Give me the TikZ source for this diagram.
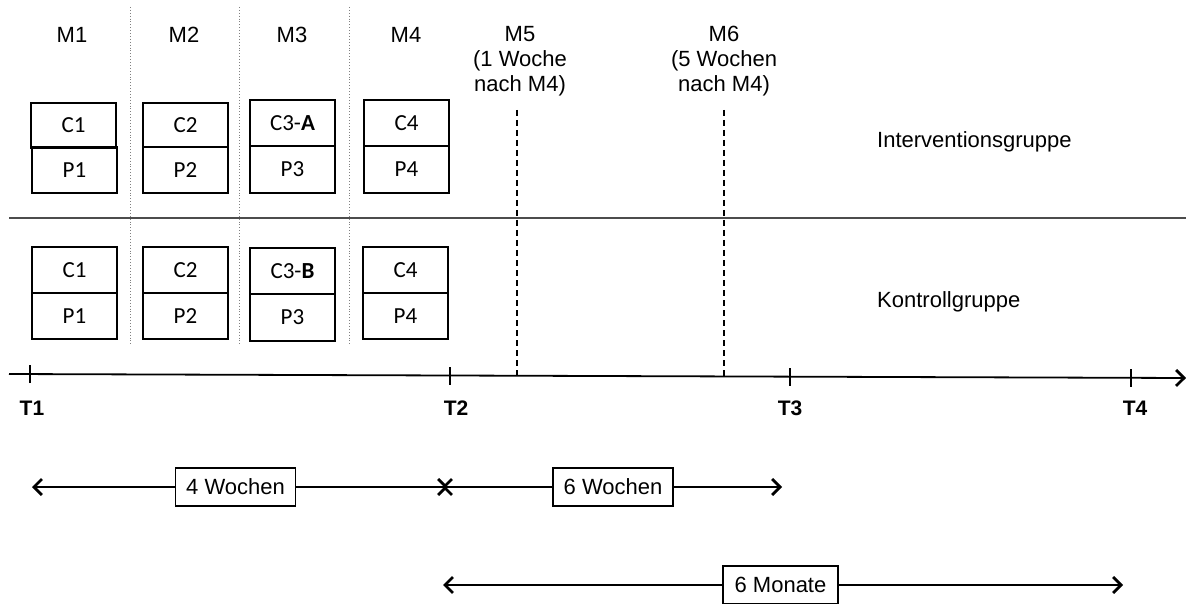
\documentclass[tikz,border=0pt]{standalone}
\usepackage{fontspec}
\setmainfont{Liberation Sans}
\newfontfamily\calib{Carlito}
\usetikzlibrary{arrows.meta}
\begin{document}
\begin{tikzpicture}[x=1pt,y=-1pt,
  cell/.style={draw, line width=1.3pt, minimum width=85pt, minimum height=46pt, inner sep=0pt, font=\calib\fontsize{23}{27}\selectfont},
  lab/.style={font=\fontsize{22}{25}\selectfont, inner sep=0pt},
  tlab/.style={font=\bfseries\fontsize{21}{24}\selectfont, inner sep=0pt},
  dur/.style={draw, line width=1.3pt, minimum height=38pt, inner sep=0pt, font=\fontsize{22}{25}\selectfont},
  tickmark/.style={line width=2.8pt},
  sep/.style={gray, dotted, line width=0.9pt},
  mline/.style={dash pattern=on 6pt off 4pt, line width=1.7pt},
  barb/.style={line width=1.8pt, -{Straight Barb[length=8pt,width=16pt,line width=2.8pt]}},
  dbarb/.style={line width=1.8pt, {Straight Barb[length=8pt,width=16pt,line width=2.8pt]}-}
]
\useasboundingbox (0,0) rectangle (1186,604);

% column separators
\coordinate (s1t) at (130,7);  \coordinate (s1b) at (130,345);
\coordinate (s2t) at (239,7);  \coordinate (s2b) at (239,345);
\coordinate (s3t) at (349,7);  \coordinate (s3b) at (349,345);
\draw[sep] (s1t) -- (s1b);
\draw[sep] (s2t) -- (s2b);
\draw[sep] (s3t) -- (s3b);

% group separator
\coordinate (gl) at (9,218); \coordinate (gr) at (1186,218);
\draw[line width=1.6pt, black!70] (gl) -- (gr);

% headers
\node[lab] (m1) at (72,35) {M1};
\node[lab] (m2) at (184,35) {M2};
\node[lab] (m3) at (292,35) {M3};
\node[lab] (m4) at (406,35) {M4};
\node[lab, align=center] (m5) at (520,61) {M5\\(1 Woche\\nach M4)};
\node[lab, align=center] (m6) at (724,61) {M6\\(5 Wochen\\nach M4)};

% intervention group boxes
\node[cell, minimum height=45pt] (ic1) at (73.5,125.5) {C1};
\node[cell] (ip1) at (74.5,170) {P1};
\node[cell, minimum height=44pt] (ic2) at (185.5,125) {C2};
\node[cell] (ip2) at (185.5,170) {P2};
\node[cell] (ic3) at (292.5,123) {C3-\textbf{A}};
\node[cell, minimum height=47pt] (ip3) at (292.5,169.5) {P3};
\node[cell] (ic4) at (406.5,123) {C4};
\node[cell, minimum height=47pt] (ip4) at (406.5,169.5) {P4};

% control group boxes
\node[cell] (kc1) at (74.5,270) {C1};
\node[cell] (kp1) at (74.5,316) {P1};
\node[cell] (kc2) at (185.5,270) {C2};
\node[cell] (kp2) at (185.5,316) {P2};
\node[cell] (kc3) at (292.5,271) {C3-\textbf{B}};
\node[cell, minimum height=47pt] (kp3) at (292.5,317.5) {P3};
\node[cell] (kc4) at (405.5,270) {C4};
\node[cell] (kp4) at (405.5,316) {P4};

% group labels
\node[lab, anchor=west] (ig) at (877,142) {Interventionsgruppe};
\node[lab, anchor=west] (kg) at (877,302) {Kontrollgruppe};

% timeline
\coordinate (tl0) at (9,374);
\coordinate (tl1) at (1186,378);
\draw[barb] (tl0) -- (tl1);
\coordinate (t1) at (30,374.1);
\coordinate (t2) at (450,375.6);
\coordinate (t3) at (790,376.7);
\coordinate (t4) at (1131,377.8);
\draw[tickmark] ([yshift=-9pt]t1) -- ([yshift=9pt]t1);
\draw[tickmark] ([yshift=-9pt]t2) -- ([yshift=9pt]t2);
\draw[tickmark] ([yshift=-9pt]t3) -- ([yshift=9pt]t3);
\draw[tickmark] ([yshift=-9pt]t4) -- ([yshift=9pt]t4);
\node[tlab] (T1) at (32,408) {T1};
\node[tlab] (T2) at (456,408) {T2};
\node[tlab] (T3) at (790,408) {T3};
\node[tlab] (T4) at (1135,408) {T4};

% M5 / M6 dashed markers
\coordinate (d5t) at (517,110); \coordinate (d5b) at (517,377.5);
\coordinate (d6t) at (724,110); \coordinate (d6b) at (724,376.8);
\draw[mline] (d5t) -- (d5b);
\draw[mline] (d6t) -- (d6b);

% durations
\node[dur, minimum width=120pt] (w4) at (235.5,487) {4 Wochen};
\coordinate (w4l) at (32,487); \coordinate (w4r) at (448,487);
\draw[dbarb] (w4l) -- (w4.west);
\draw[barb] (w4.east) -- (w4r);

\node[dur, minimum width=120pt] (w6) at (613,487) {6 Wochen};
\coordinate (w6l) at (442,487); \coordinate (w6r) at (782,487);
\draw[dbarb] (w6l) -- (w6.west);
\draw[barb] (w6.east) -- (w6r);

\node[dur, minimum width=115pt] (mo6) at (780.5,585) {6 Monate};
\coordinate (mol) at (443,585); \coordinate (mor) at (1123,585);
\draw[dbarb] (mol) -- (mo6.west);
\draw[barb] (mo6.east) -- (mor);
\end{tikzpicture}
\end{document}
